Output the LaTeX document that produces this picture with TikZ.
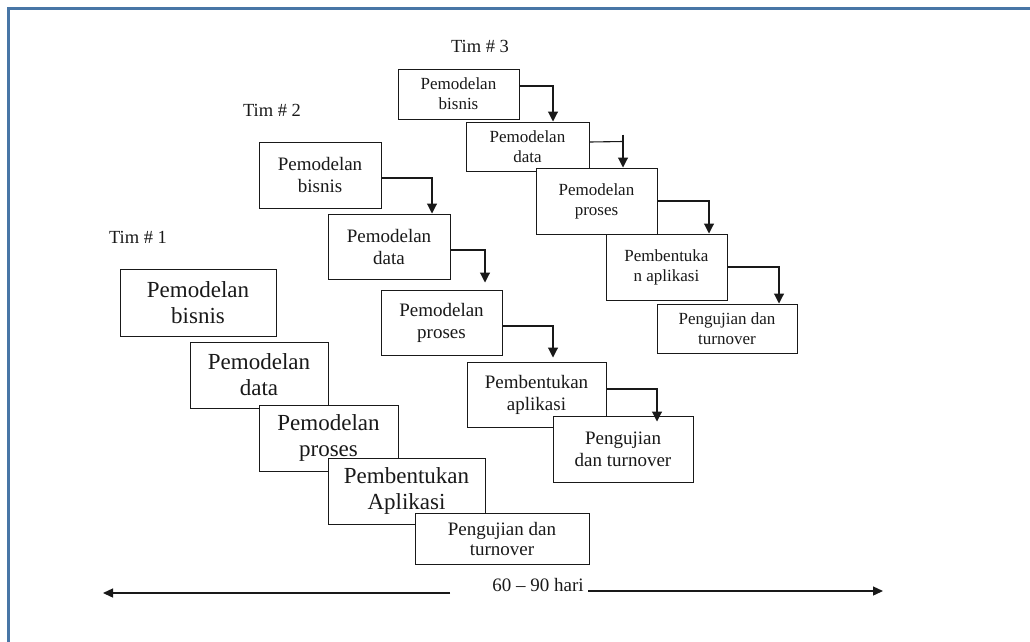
\documentclass[tikz,border=0pt]{standalone}
\usepackage{fontspec}
\setmainfont{Liberation Serif}
\usetikzlibrary{arrows.meta}
\definecolor{frameblue}{RGB}{72,118,166}
\definecolor{ink}{RGB}{25,25,25}

\begin{document}
\begin{tikzpicture}[x=1pt,y=-1pt,
  box/.style={draw=ink, fill=white, line width=1pt, inner sep=0pt, align=center, text=ink},
  t3/.style={box, font=\fontsize{17}{20}\selectfont},
  t2/.style={box, font=\fontsize{19}{22}\selectfont},
  t1/.style={box, font=\fontsize{23}{26}\selectfont},
  t1small/.style={box, font=\fontsize{19}{20}\selectfont},
  flow/.style={draw=ink, line width=1.1pt, -{Triangle[width=10pt,length=10pt]}},
  plain/.style={draw=ink, line width=1.1pt},
  span/.style={draw=ink, line width=1.3pt, -{Triangle[width=9pt,length=10pt]}},
  team/.style={font=\fontsize{18.5}{22}\selectfont, text=ink},
]
\useasboundingbox (0,0) rectangle (1030,641);

% page frame
\draw[frameblue, line width=2.6pt] (8.7,650) |- (1040,8.3);

% ---------------- Tim # 3 ----------------
\node[team] (L3) at (480,46) {Tim \# 3};
\node[t3, minimum width=121pt, minimum height=50pt] (B1) at (458.5,94)  {Pemodelan\\bisnis};
\node[t3, minimum width=123pt, minimum height=49pt] (B2) at (527.5,146.5) {Pemodelan\\data};
\node[t3, minimum width=121pt, minimum height=66pt] (B3) at (596.5,201) {Pemodelan\\proses};
\node[t3, minimum width=121pt, minimum height=66pt] (B4) at (666.5,267) {Pembentuka\\n aplikasi};
\node[t3, minimum width=140pt, minimum height=49pt] (B5) at (727,328.5) {Pengujian dan\\turnover};

\draw[flow] ([yshift=8pt]B1.east) -| ([xshift=25.5pt]B2.north);
\draw[plain] ([yshift=4.5pt]B2.east) -- ([xshift=26.5pt,yshift=26pt]B3.north);
\draw[flow] ([xshift=26.5pt,yshift=33pt]B3.north) -- ([xshift=26.5pt]B3.north);
\draw[flow] (B3.east) -| ([xshift=42.5pt]B4.north);
\draw[flow] (B4.east) -| ([xshift=52pt]B5.north);

% ---------------- Tim # 2 ----------------
\node[team] (L2) at (272,110) {Tim \# 2};
\node[t2, minimum width=122pt, minimum height=66pt] (C1) at (320,175)     {Pemodelan\\bisnis};
\node[t2, minimum width=122pt, minimum height=65pt] (C2) at (389,246.5)   {Pemodelan\\data};
\node[t2, minimum width=121pt, minimum height=65pt] (C3) at (441.5,322.5) {Pemodelan\\proses};
\node[t2, minimum width=139pt, minimum height=65pt] (C4) at (536.5,394.5) {Pembentukan\\aplikasi};
\node[t2, minimum width=140pt, minimum height=66pt] (C5) at (623,449)     {Pengujian\\dan turnover};

\draw[flow] ([yshift=-3pt]C1.east) -| ([xshift=43pt]C2.north);
\draw[flow] ([yshift=-3.5pt]C2.east) -| ([xshift=43.5pt,yshift=7pt]C3.north);
\draw[flow] ([yshift=-3.5pt]C3.east) -| ([xshift=16.5pt,yshift=4pt]C4.north);
\draw[flow] ([yshift=5.5pt]C4.east) -| ([xshift=34pt,yshift=-6pt]C5.north);

% ---------------- Tim # 1 ----------------
\node[team] (L1) at (138,237) {Tim \# 1};
\node[t1, minimum width=156pt, minimum height=67pt] (D1) at (198,302.5)   {Pemodelan\\bisnis};
\node[t1, minimum width=138pt, minimum height=66pt] (D2) at (259,375)     {Pemodelan\\data};
\node[t1, minimum width=139pt, minimum height=66pt] (D3) at (328.5,438)   {Pemodelan\\proses};
\node[t1, minimum width=157pt, minimum height=66pt] (D4) at (406.5,491)   {Pembentukan\\Aplikasi};
\node[t1small, minimum width=174pt, minimum height=51pt] (D5) at (502,538.5) {Pengujian dan\\turnover};

% ---------------- duration ----------------
\node[font=\fontsize{19}{22}\selectfont, text=ink, anchor=base] (dur) at (538,591) {60 \textendash{} 90 hari};
\coordinate (Lstart) at (450,593);
\coordinate (Lend) at (103,593);
\coordinate (Rstart) at (588,591);
\coordinate (Rend) at (883,591);
\draw[span] (Lstart) -- (Lend);
\draw[span] (Rstart) -- (Rend);
\end{tikzpicture}
\end{document}
